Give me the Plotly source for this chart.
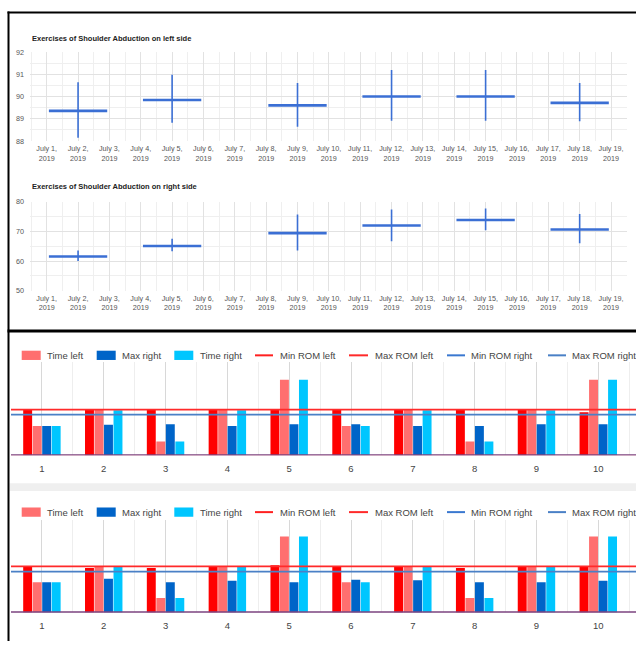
import plotly.graph_objects as go
import numpy as np

# ---------------- data ----------------
day_nums = list(range(1, 20))
day_labels = [f"July {d},<br>2019" for d in day_nums]

session_days = [2, 5, 9, 12, 15, 18]
avg_left = [89.36, 89.85, 89.61, 90.01, 90.01, 89.72]
min_left = [88.15, 88.83, 88.65, 88.92, 88.92, 88.89]
max_left = [90.65, 90.99, 90.62, 91.20, 91.20, 90.62]

avg_right = [61.56, 65.10, 69.44, 72.00, 73.89, 70.67]
min_right = [60.00, 63.33, 63.56, 66.67, 70.44, 66.00]
max_right = [63.56, 67.56, 75.78, 77.44, 77.78, 75.89]

categories = list(range(1, 11))
cat_labels = [str(c) for c in categories]

# bar chart 1
b1_max_left = [90, 90, 90, 90, 90, 90, 90, 90, 90, 85]
b1_time_left = [58, 90, 27, 90, 149, 58, 90, 27, 90, 149]
b1_max_right = [58, 60, 61, 58, 61, 61, 58, 58, 61, 61]
b1_time_right = [58, 89, 27, 89, 149, 58, 89, 27, 89, 149]
b1_rom = {"Min ROM left": 0, "Max ROM left": 90, "Min ROM right": 0, "Max ROM right": 80}

# bar chart 2
b2_max_left = [90, 87, 87, 90, 92.5, 90, 90, 87, 90, 90]
b2_time_left = [59, 90, 28, 90, 148.5, 59, 90, 28, 90, 148.5]
b2_max_right = [59, 66, 59, 62, 59, 64, 63, 59, 59, 62]
b2_time_right = [59, 90, 28, 90, 148.5, 59, 90, 28, 90, 148.5]
b2_rom = {"Min ROM left": 0, "Max ROM left": 90, "Min ROM right": 0, "Max ROM right": 80}

title_left = "Exercises of Shoulder Abduction on left side"
title_right = "Exercises of Shoulder Abduction on right side"

# ---------------- styles ----------------
W, H = 636, 646
FONT = "Arial, Liberation Sans, sans-serif"
CANDLE = "#3b6fd4"
COL_MAXL = "#ff0000"
COL_TIMEL = "#ff6f6f"
COL_MAXR = "#0064c8"
COL_TIMER = "#00c6ff"
ROM_COL = {"Min ROM left": "#ff2020", "Max ROM left": "#ff2a2a",
           "Min ROM right": "#3a56b0", "Max ROM right": "#4a80c6"}


def px(x):
    return x / W


def py(y):
    return 1 - y / H


fig = go.Figure()

# ---------- top charts (interval sticks) ----------
for avg, lo, hi, ax in [(avg_left, min_left, max_left, ("x", "y")),
                        (avg_right, min_right, max_right, ("x2", "y2"))]:
    a = np.array(avg)
    fig.add_trace(go.Scatter(
        x=session_days, y=avg, mode="markers",
        marker=dict(size=1, opacity=0),
        error_x=dict(type="constant", value=0.93, width=0, thickness=2.6, color=CANDLE),
        error_y=dict(type="data", symmetric=False, array=list(np.array(hi) - a),
                     arrayminus=list(a - np.array(lo)), width=0, thickness=1.6, color=CANDLE),
        xaxis=ax[0], yaxis=ax[1], showlegend=False, hoverinfo="skip"))

# ---------- bar charts ----------
bar_sets = [
    (b1_max_left, b1_time_left, b1_max_right, b1_time_right, "x3", "y3"),
    (b2_max_left, b2_time_left, b2_max_right, b2_time_right, "x4", "y4"),
]
for ml, tl, mr, tr, xa, ya in bar_sets:
    for name, vals, col in [("Max left", ml, COL_MAXL), ("Time left", tl, COL_TIMEL),
                            ("Max right", mr, COL_MAXR), ("Time right", tr, COL_TIMER)]:
        fig.add_trace(go.Bar(x=categories, y=vals, name=name, marker_color=col,
                             marker_line_width=0, xaxis=xa, yaxis=ya,
                             showlegend=False, hoverinfo="skip"))

# ROM reference lines
for rom, xa, ya in [(b1_rom, "x3", "y3"), (b2_rom, "x4", "y4")]:
    for name in ["Min ROM left", "Min ROM right", "Max ROM left", "Max ROM right"]:
        fig.add_shape(type="line", xref=f"{xa} domain", yref=ya, x0=0, x1=1,
                      y0=rom[name], y1=rom[name],
                      line=dict(color=ROM_COL[name], width=1.8), layer="above")

# ---------- axes ----------
grid_major = "#e2e2e2"
grid_minor = "#efefef"
common_top_x = dict(range=[0.467, 19.51], tickmode="array", tickvals=day_nums, ticktext=day_labels,
                    showgrid=True, gridcolor=grid_major, zeroline=False, showline=False, ticks="",
                    minor=dict(tickmode="linear", tick0=0.5, dtick=1, showgrid=True, gridcolor=grid_minor),
                    tickfont=dict(family=FONT, size=7.2, color="#555"), ticklabelstandoff=2)
layout_axes = dict(
    xaxis=dict(domain=[px(30), px(627)], anchor="y", **common_top_x),
    yaxis=dict(domain=[py(139), py(49)], anchor="x", range=[88, 92], tick0=88, dtick=1,
               showgrid=True, gridcolor=grid_major, zeroline=False, showline=False, ticks="",
               minor=dict(tick0=88, dtick=0.5, showgrid=True, gridcolor=grid_minor),
               tickfont=dict(family=FONT, size=7.2, color="#555"), ticklabelstandoff=5),
    xaxis2=dict(domain=[px(30), px(627)], anchor="y2", **common_top_x),
    yaxis2=dict(domain=[py(290.7), py(200.7)], anchor="x2", range=[50, 80], tick0=50, dtick=10,
                showgrid=True, gridcolor=grid_major, zeroline=False, showline=False, ticks="",
                minor=dict(tick0=50, dtick=5, showgrid=True, gridcolor=grid_minor),
                tickfont=dict(family=FONT, size=7.2, color="#555"), ticklabelstandoff=5),
)
common_bar_x = dict(range=[0.5, 10.61], tickmode="array", tickvals=categories, ticktext=cat_labels,
                    showgrid=True, gridcolor="#d8d8d8", zeroline=False, showline=False, ticks="",
                    minor=dict(tickmode="linear", tick0=0.5, dtick=1, showgrid=True, gridcolor="#eeeeee"),
                    tickfont=dict(family=FONT, size=9.5, color="#444"), ticklabelstandoff=6)
common_bar_y = dict(showgrid=False, zeroline=False, showline=False, showticklabels=False, ticks="")
layout_axes.update(
    xaxis3=dict(domain=[px(11), 1.0], anchor="y3", **common_bar_x),
    yaxis3=dict(domain=[py(457.7), py(363)], anchor="x3", range=[0, 184], **common_bar_y),
    xaxis4=dict(domain=[px(11), 1.0], anchor="y4", **common_bar_x),
    yaxis4=dict(domain=[py(617), py(523.3)], anchor="x4", range=[0, 181], **common_bar_y),
)

fig.update_layout(width=W, height=H, margin=dict(l=0, r=0, t=0, b=0),
                  paper_bgcolor="white", plot_bgcolor="white",
                  barmode="group", bargap=0.385, bargroupgap=0.06,
                  font=dict(family=FONT), showlegend=False, **layout_axes)

# ---------- titles ----------
for txt, yc in [(title_left, 34.5), (title_right, 185.5)]:
    fig.add_annotation(text=f"<b>{txt}</b>", xref="paper", yref="paper", x=px(30), y=py(yc),
                       xanchor="left", yanchor="middle", showarrow=False,
                       font=dict(family=FONT, size=7.5, color="#222"))

# ---------- manual legends ----------
legend_items = [  # (label, kind, colour, swatch x0, swatch x1, text x)
    ("Time left", "bar", COL_TIMEL, 21.7, 40.7, 45),
    ("Max right", "bar", COL_MAXR, 96.7, 115.7, 119.5),
    ("Time right", "bar", COL_TIMER, 174.3, 193.3, 198),
    ("Min ROM left", "line", ROM_COL["Min ROM left"], 255, 273, 278),
    ("Max ROM left", "line", ROM_COL["Max ROM left"], 349, 368, 373),
    ("Min ROM right", "line", "#3a78d0", 447, 465, 469),
    ("Max ROM right", "line", "#4a80c6", 548, 566, 570),
]
for yc in [356.3, 515.3]:
    for label, kind, col, x0, x1, tx in legend_items:
        if kind == "bar":
            fig.add_shape(type="rect", xref="paper", yref="paper", x0=px(x0), x1=px(x1),
                          y0=py(yc + 4.7), y1=py(yc - 4.7), fillcolor=col, line_width=0)
        else:
            fig.add_shape(type="line", xref="paper", yref="paper", x0=px(x0), x1=px(x1),
                          y0=py(yc), y1=py(yc), line=dict(color=col, width=2))
        fig.add_annotation(text=label, xref="paper", yref="paper", x=px(tx), y=py(yc),
                           xanchor="left", yanchor="middle", showarrow=False,
                           font=dict(family=FONT, size=9.5, color="#444"))

# ---------- frame / separators ----------
fig.add_shape(type="rect", xref="paper", yref="paper", x0=px(9.5), x1=1, y0=py(494), y1=py(486),
              fillcolor="#efefef", line_width=0, layer="below")
fig.add_shape(type="line", xref="paper", yref="paper", x0=px(7.5), x1=1, y0=py(8.5), y1=py(8.5),
              line=dict(color="black", width=2))
fig.add_shape(type="line", xref="paper", yref="paper", x0=px(8.5), x1=px(8.5), y0=py(7.5), y1=0,
              line=dict(color="black", width=2))
fig.add_shape(type="line", xref="paper", yref="paper", x0=px(7.5), x1=1, y0=py(331.5), y1=py(331.5),
              line=dict(color="black", width=3))

fig.write_html("out.html", config={"displayModeBar": False},
               post_script="document.body.style.margin='0';document.body.style.overflow='hidden';")
